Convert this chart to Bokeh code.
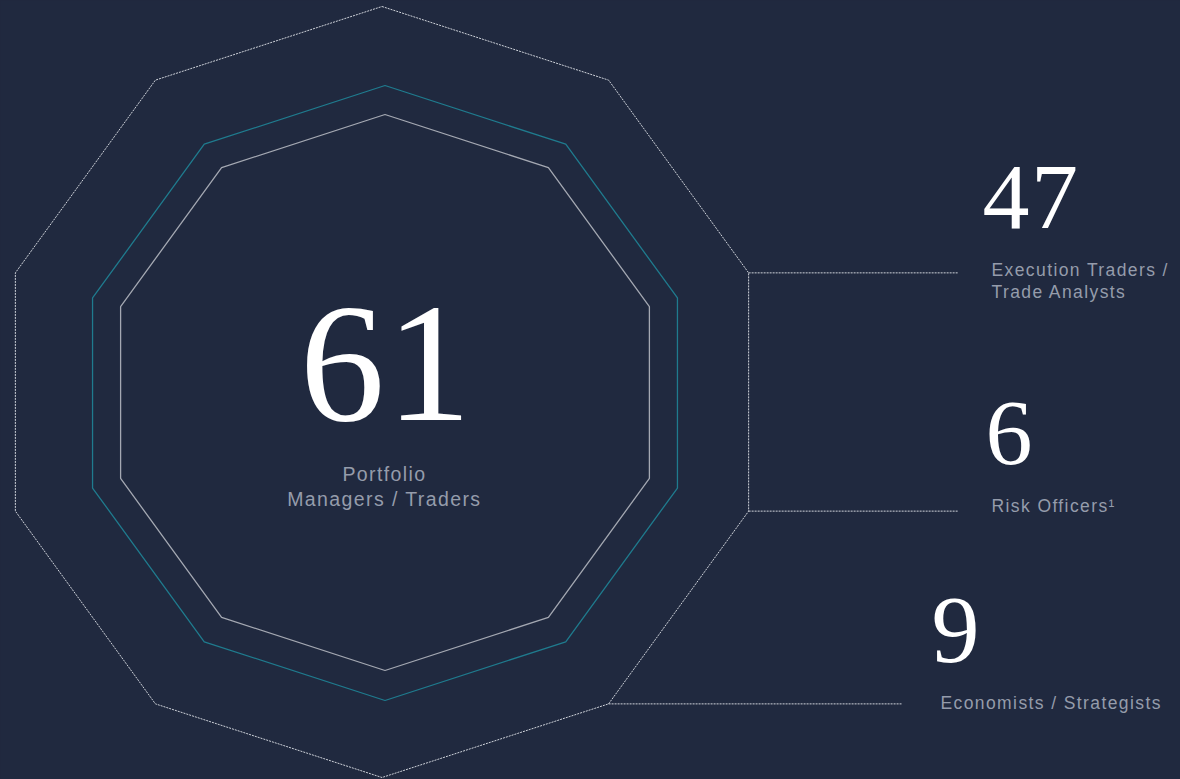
import math
from bokeh.plotting import figure
from bokeh.models import Range1d, ColumnDataSource
from bokeh.core.properties import value
from bokeh.embed import file_html
from bokeh.resources import INLINE

# ---- data ----
counts = [61, 47, 6, 9]
count_labels = ["61", "47", "6", "9"]
role_lines = [
    ["Portfolio", "Managers / Traders"],
    ["Execution Traders /", "Trade Analysts"],
    ["Risk Officers\u00b9"],
    ["Economists / Strategists"],
]

BG = "#20293f"
LABEL_GREY = "#959cab"
K = 0.34  # baseline correction factor (fraction of font size)
SPACING = 1.4

W, H = 1180, 779
p = figure(width=W, height=H, output_backend="svg", toolbar_location=None,
           x_range=Range1d(0, W), y_range=Range1d(H, 0),
           min_border=0, background_fill_color=BG, border_fill_color=BG)
p.axis.visible = False
p.grid.visible = False
p.outline_line_color = None


def decagon(cx, cy, r):
    xs, ys = [], []
    for k in range(11):
        a = math.radians(90 - 36 * k)
        xs.append(cx + r * math.cos(a))
        ys.append(cy - r * math.sin(a))
    return xs, ys

# outer dotted decagon
ox, oy, orad = 381.5, 391.5, 385.5
xs, ys = decagon(ox, oy, orad)
p.line(xs, ys, line_color="#cfd3da", line_width=1, line_dash="2 1")
# teal decagon
xs, ys = decagon(384.5, 392.5, 307.5)
p.line(xs, ys, line_color="#1f7b8e", line_width=1.3)
# inner grey decagon
xs, ys = decagon(384.5, 392.0, 278)
p.line(xs, ys, line_color="#a4a8b2", line_width=1.3)

# connectors from outer vertices
def vert(deg):
    return (ox + orad * math.cos(math.radians(deg)), oy - orad * math.sin(math.radians(deg)))
v1, v2, v3 = vert(18), vert(-18), vert(-54)
p.segment(x0=[v1[0], v2[0], v3[0]], y0=[v1[1], v2[1], v3[1]],
          x1=[958, 958, 901], y1=[v1[1], v2[1], v3[1]],
          line_color="#cfd3da", line_width=1, line_dash="2 1")

# big numbers
num_x = [385 - SPACING / 2, 982, 985, 931]
num_base = [422, 229, 465, 663]
num_px = [170, 94, 94, 96]
num_align = ["center", "left", "left", "left"]
src = ColumnDataSource(dict(x=num_x, y=[b - K * s for b, s in zip(num_base, num_px)],
                            t=count_labels, s=[f"{s}px" for s in num_px], a=num_align, v=counts))
p.text(x="x", y="y", text="t", source=src, text_font=value("Liberation Serif"),
       text_font_size="s", text_align="a", text_baseline="alphabetic", text_color="#ffffff")

# role labels
lab_x = [384, 991, 991, 940]
lab_y0 = [482, 277, 513, 710]
lab_gap = [25, 22, 0, 0]
lab_size = [19.5, 17.5, 17.5, 17.5]
lab_align = ["center", "left", "left", "left"]
lx, ly, lt, ls, la = [], [], [], [], []
for i, lines in enumerate(role_lines):
    for j, line in enumerate(lines):
        shift = -SPACING * len(line) / 2 if lab_align[i] == "center" else 0
        lx.append(lab_x[i] + shift)
        ly.append(lab_y0[i] + j * lab_gap[i] - K * lab_size[i] - 1.5)
        lt.append(line)
        ls.append(f"{lab_size[i]}px")
        la.append(lab_align[i])
lsrc = ColumnDataSource(dict(x=lx, y=ly, t=lt, s=ls, a=la))
p.text(x="x", y="y", text="t", source=lsrc, text_font=value("Liberation Sans"),
       text_font_size="s", text_align="a", text_baseline="alphabetic", text_color=LABEL_GREY)

html = file_html(p, INLINE)
html = html.replace("</head>", "<style>body{background:%s;letter-spacing:%spx;}</style></head>" % (BG, SPACING), 1)
open("out.html", "w").write(html)
